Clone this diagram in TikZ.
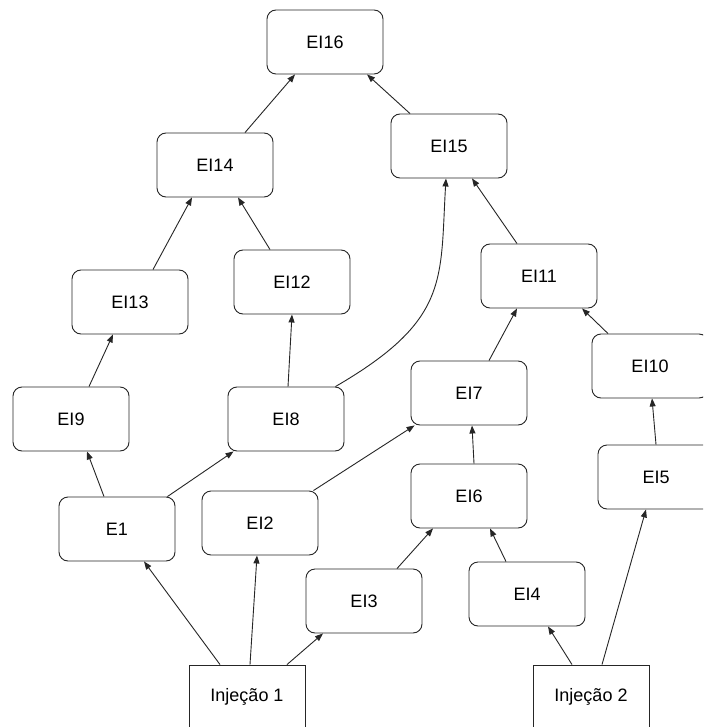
\documentclass[tikz,border=0pt]{standalone}
\usepackage{fontspec}
\setmainfont{Liberation Sans}
\usetikzlibrary{arrows.meta}
\begin{document}
\begin{tikzpicture}[x=1pt, y=-1pt,
  stage/.style={draw=black!85, line width=0.9pt, rounded corners=9pt,
    minimum width=116pt, minimum height=64pt, inner sep=0pt,
    font=\fontsize{18}{20}\selectfont},
  source/.style={stage, rounded corners=0pt},
  feed/.style={draw=black!85, line width=0.9pt,
    -{Triangle[length=8pt,width=6pt]}}]
\useasboundingbox (0,0) rectangle (703,727);
\clip (0,0) rectangle (703,727);
\fill[white] (0,0) rectangle (703,727);

% stages
\node[stage] (ei16) at (325,42)  {EI16};
\node[stage] (ei14) at (215,165) {EI14};
\node[stage] (ei15) at (449,146) {EI15};
\node[stage] (ei13) at (130,302) {EI13};
\node[stage] (ei12) at (292,282) {EI12};
\node[stage] (ei11) at (539,276) {EI11};
\node[stage] (ei9)  at (71,419)  {EI9};
\node[stage] (ei8)  at (286,419) {EI8};
\node[stage] (ei7)  at (469,393) {EI7};
\node[stage] (ei10) at (650,366) {EI10};
\node[stage] (e1)   at (117,529) {E1};
\node[stage] (ei2)  at (260,523) {EI2};
\node[stage] (ei6)  at (469,496) {EI6};
\node[stage] (ei5)  at (656,477) {EI5};
\node[stage] (ei3)  at (364,601) {EI3};
\node[stage] (ei4)  at (527,594) {EI4};
\node[source] (inj1) at (247,697) {Injeção 1};
\node[source] (inj2) at (591,697) {Injeção 2};

% connectors
\draw[feed] ([xshift=30pt]ei14.north)  -- ([xshift=-30pt]ei16.south);
\draw[feed] ([xshift=-39pt]ei15.north) -- ([xshift=42pt]ei16.south);
\draw[feed] ([xshift=23pt]ei13.north)  -- ([xshift=-23pt]ei14.south);
\draw[feed] ([xshift=-22pt]ei12.north) -- ([xshift=23pt]ei14.south);
\draw[feed] ([xshift=-22pt]ei11.north) -- ([xshift=23pt]ei15.south);
\draw[feed] ([xshift=-9pt]ei8.north east)
  .. controls (450,320) and (440,280) .. ([xshift=-3pt]ei15.south);
\draw[feed] ([xshift=20pt]ei7.north)   -- ([xshift=-22pt]ei11.south);
\draw[feed] ([xshift=-42pt]ei10.north) -- ([xshift=43pt]ei11.south);
\draw[feed] ([xshift=18pt]ei9.north)   -- ([xshift=-17pt]ei13.south);
\draw[feed] ([xshift=2pt]ei8.north)    -- ([xshift=0pt]ei12.south);
\draw[feed] ([xshift=-13pt]e1.north)   -- ([xshift=16pt]ei9.south);
\draw[feed] ([xshift=-8pt]e1.north east) -- ([xshift=6pt]ei8.south west);
\draw[feed] ([xshift=-5pt]ei2.north east) -- ([xshift=4pt]ei7.south west);
\draw[feed] ([xshift=5pt]ei6.north)    -- ([xshift=3pt]ei7.south);
\draw[feed] ([xshift=0pt]ei5.north)    -- ([xshift=2pt]ei10.south);
\draw[feed] ([xshift=-27pt]inj1.north) -- ([xshift=27pt]e1.south);
\draw[feed] ([xshift=3pt]inj1.north)   -- ([xshift=-3pt]ei2.south);
\draw[feed] ([xshift=40pt]inj1.north)  -- ([xshift=-41pt]ei3.south);
\draw[feed] ([xshift=33pt]ei3.north)   -- ([xshift=-36pt]ei6.south);
\draw[feed] ([xshift=-21pt]ei4.north)  -- ([xshift=21pt]ei6.south);
\draw[feed] ([xshift=-19pt]inj2.north) -- ([xshift=21pt]ei4.south);
\draw[feed] ([xshift=11pt]inj2.north)  -- ([xshift=-10pt]ei5.south);
\end{tikzpicture}
\end{document}
